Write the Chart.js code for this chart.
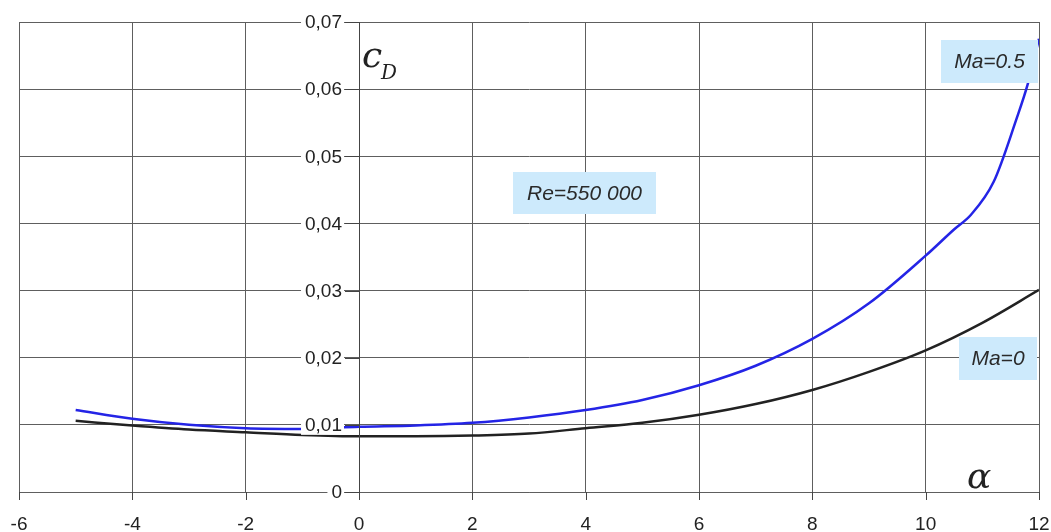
<!DOCTYPE html>
<html>
<head>
<meta charset="utf-8">
<script src="https://cdn.jsdelivr.net/npm/chart.js@4"></script>
<style>
  html, body { margin: 0; padding: 0; background: #fff; }
  #wrap { width: 1051px; height: 532px; }
</style>
</head>
<body>
<div id="wrap"><canvas id="c" width="1051" height="532"></canvas></div>
<script>
// angle of attack, deg
const alphaMa0 = [-5, -4, -3, -2, -1, 0, 1, 2, 3, 4, 5, 6, 7, 8, 9, 10, 11, 12];
const cdMa0 = [0.0106, 0.0099, 0.0093, 0.0089, 0.0085, 0.0083, 0.0083, 0.0084, 0.0087, 0.0095,
               0.0103, 0.0115, 0.0131, 0.0152, 0.0179, 0.0211, 0.0252, 0.0301];

const alphaMa05 = [-5, -4, -3, -2, -1, 0, 1, 2, 3, 4, 5, 6, 7, 8, 9, 10, 10.5, 10.8, 11.2, 11.6, 11.8, 12];
const cdMa05 = [0.0122, 0.0109, 0.0100, 0.0095, 0.0094, 0.0097, 0.0099, 0.0103, 0.0111, 0.0122,
                0.0137, 0.0159, 0.0188, 0.0228, 0.0281, 0.0352, 0.0391, 0.0413, 0.0462, 0.0555, 0.0607, 0.0675];

const xTicks = [-6, -4, -2, 0, 2, 4, 6, 8, 10, 12];
const yTicks = ['0', '0,01', '0,02', '0,03', '0,04', '0,05', '0,06', '0,07'];

function pts(xs, ys) {
    return xs.map((x, i) => ({ x, y: ys[i] }));
}

function box(ctx, text, x, y, w, h) {
    ctx.fillStyle = '#cdeafc';
    ctx.fillRect(x, y, w, h);
    ctx.fillStyle = '#2a2a2a';
    ctx.font = 'italic 21px "Liberation Sans", Arial, sans-serif';
    ctx.textAlign = 'center';
    ctx.textBaseline = 'middle';
    ctx.fillText(text, x + w / 2, y + h / 2 + 1);
}

const labels = {
    id: 'labels',
    afterDatasetsDraw(chart) {
        const ctx = chart.ctx;
        const xs = chart.scales.x, ys = chart.scales.y;
        const x0 = xs.getPixelForValue(0);
        ctx.save();

        // vertical axis at alpha = 0
        ctx.strokeStyle = '#444';
        ctx.lineWidth = 1;
        ctx.beginPath();
        ctx.moveTo(Math.round(x0) + 0.5, ys.top);
        ctx.lineTo(Math.round(x0) + 0.5, ys.bottom + 8);
        ctx.stroke();

        // x tick marks below the axis
        xTicks.forEach(v => {
            const px = Math.round(xs.getPixelForValue(v)) + 0.5;
            ctx.beginPath();
            ctx.moveTo(px, ys.bottom);
            ctx.lineTo(px, ys.bottom + 8);
            ctx.stroke();
        });

        // y labels left of the axis, on white
        ctx.font = '19px "Liberation Sans", Arial, sans-serif';
        ctx.textBaseline = 'middle';
        ctx.textAlign = 'right';
        yTicks.forEach((t, i) => {
            const py = ys.getPixelForValue(i * 0.01);
            const w = ctx.measureText(t).width;
            ctx.fillStyle = '#fff';
            ctx.fillRect(x0 - 18 - w - 3, py - 10, w + 6, 20);
            ctx.strokeStyle = '#444';
            ctx.beginPath();
            ctx.moveTo(x0 - 14, Math.round(py) + 0.5);
            ctx.lineTo(x0, Math.round(py) + 0.5);
            ctx.stroke();
            ctx.fillStyle = '#222';
            ctx.fillText(t, x0 - 17, py + 1);
        });

        // x labels
        ctx.textAlign = 'center';
        ctx.textBaseline = 'alphabetic';
        xTicks.forEach(v => {
            ctx.fillStyle = '#222';
            ctx.fillText(String(v), xs.getPixelForValue(v), 530);
        });

        // axis titles
        ctx.fillStyle = '#222';
        ctx.textAlign = 'left';
        ctx.font = 'italic 36px "DejaVu Serif", "Liberation Serif", serif';
        ctx.fillText('c', 362, 67);
        ctx.font = 'italic 20px "DejaVu Serif", "Liberation Serif", serif';
        ctx.fillText('D', 381, 79);
        ctx.font = 'italic 36px "DejaVu Serif", "Liberation Serif", serif';
        ctx.fillText('\u03b1', 967, 488);

        // annotation boxes
        box(ctx, 'Ma=0.5', 941, 40, 97, 43);
        box(ctx, 'Re=550 000', 513, 172, 143, 42);
        box(ctx, 'Ma=0', 959, 337, 78, 43);

        ctx.restore();
    }
};

new Chart(document.getElementById('c'), {
    type: 'line',
    data: {
        datasets: [
            {
                label: 'Ma=0',
                data: pts(alphaMa0, cdMa0),
                borderColor: '#222',
                borderWidth: 2.5,
                pointRadius: 0,
                cubicInterpolationMode: 'monotone'
            },
            {
                label: 'Ma=0.5',
                data: pts(alphaMa05, cdMa05),
                borderColor: '#2424e6',
                borderWidth: 2.5,
                pointRadius: 0,
                cubicInterpolationMode: 'monotone'
            }
        ]
    },
    options: {
        responsive: false,
        animation: false,
        devicePixelRatio: 1,
        layout: { padding: { left: 19, right: 12, top: 22, bottom: 40 } },
        plugins: { legend: { display: false }, tooltip: { enabled: false } },
        scales: {
            x: {
                type: 'linear', min: -6, max: 12,
                ticks: { display: false, stepSize: 2 },
                grid: { color: '#5e5e5e', lineWidth: 1, drawTicks: false },
                border: { color: '#5e5e5e' }
            },
            y: {
                min: 0, max: 0.07,
                ticks: { display: false, stepSize: 0.01 },
                grid: { color: '#5e5e5e', lineWidth: 1, drawTicks: false },
                border: { color: '#5e5e5e' }
            }
        }
    },
    plugins: [labels]
});
</script>
</body>
</html>
